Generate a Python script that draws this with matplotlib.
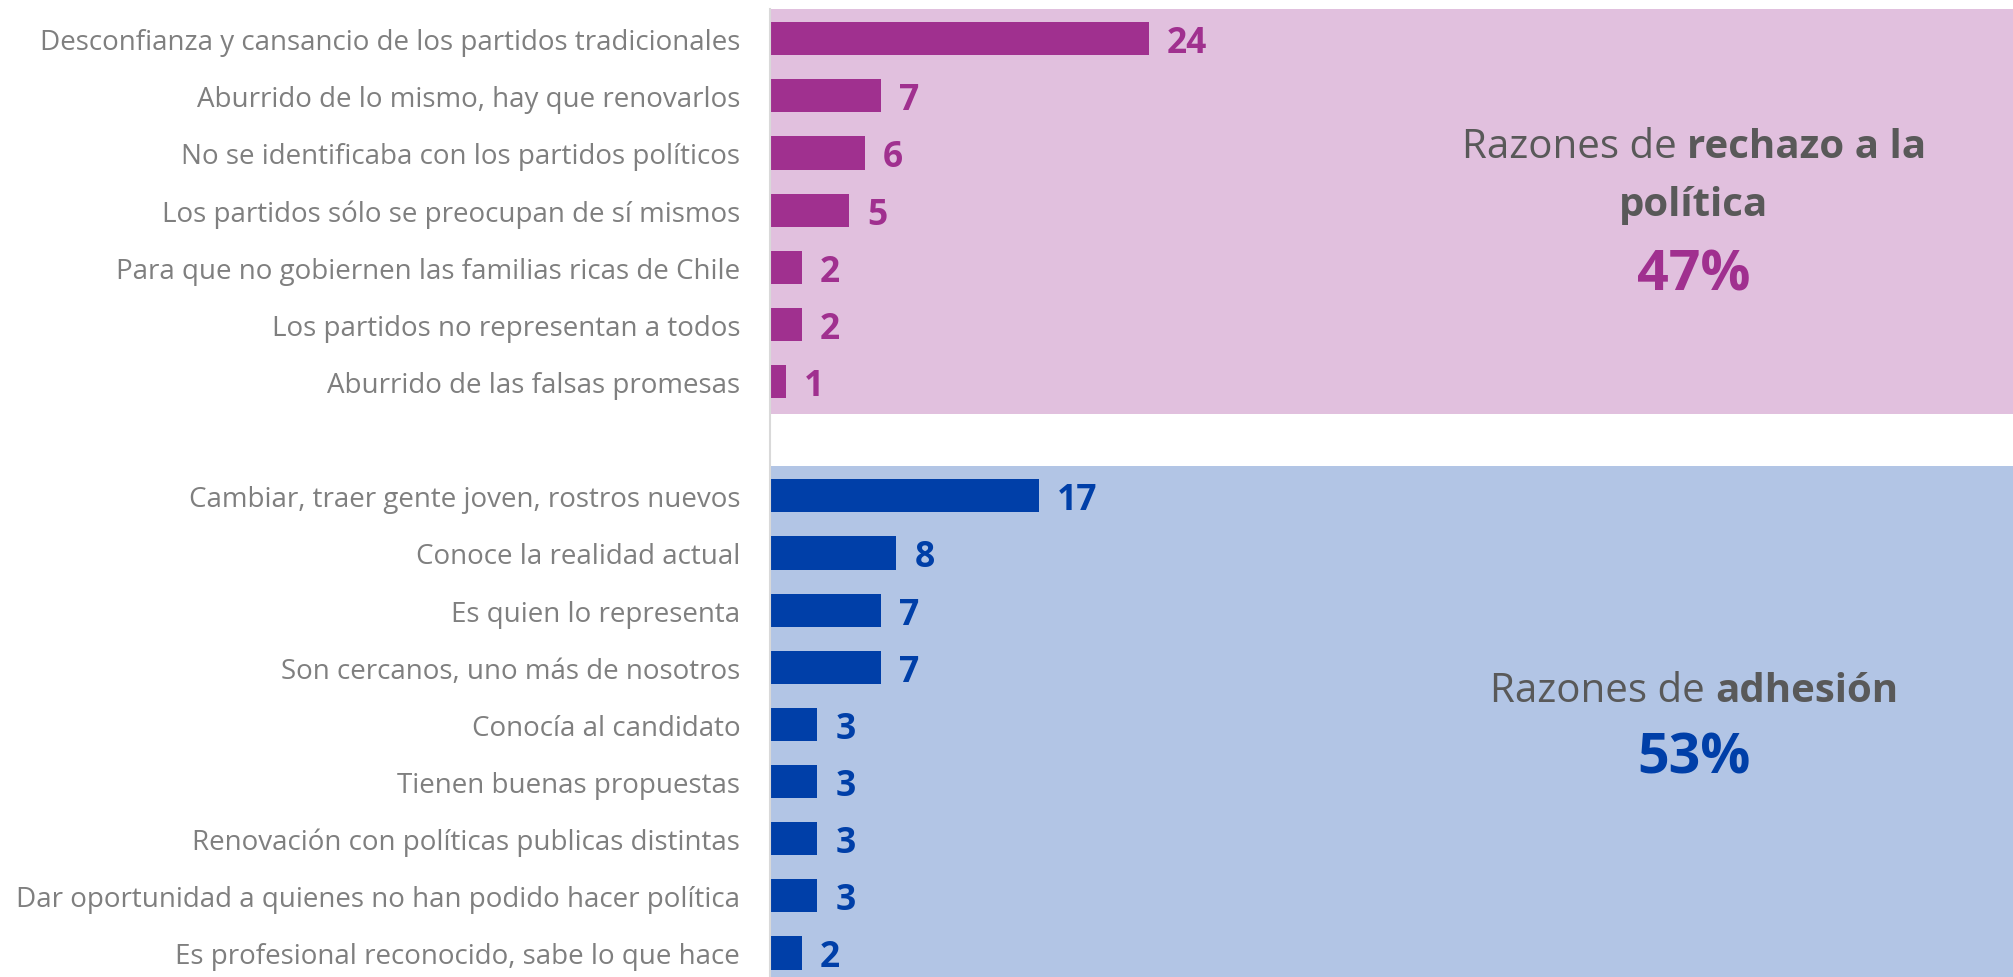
import matplotlib
matplotlib.use("Agg")
import matplotlib.pyplot as plt
from matplotlib.transforms import IdentityTransform

plt.rcParams['font.family'] = ['Open Sans', 'DejaVu Sans']

rechazo_labels = [
    'Desconfianza y cansancio de los partidos tradicionales',
    'Aburrido de lo mismo, hay que renovarlos',
    'No se identificaba con los partidos políticos',
    'Los partidos sólo se preocupan de sí mismos',
    'Para que no gobiernen las familias ricas de Chile',
    'Los partidos no representan a todos',
    'Aburrido de las falsas promesas',
]
rechazo_values = [24, 7, 6, 5, 2, 2, 1]

adhesion_labels = [
    'Cambiar, traer gente joven, rostros nuevos',
    'Conoce la realidad actual',
    'Es quien lo representa',
    'Son cercanos, uno más de nosotros',
    'Conocía al candidato',
    'Tienen buenas propuestas',
    'Renovación con políticas publicas distintas',
    'Dar oportunidad a quienes no han podido hacer política',
    'Es profesional reconocido, sabe lo que hace',
]
adhesion_values = [17, 8, 7, 7, 3, 3, 3, 3, 2]

rechazo_total = '47%'
adhesion_total = '53%'

PINK_BG = '#E1C0DE'
MAGENTA = '#A0308F'
BLUE_BG = '#B2C5E5'
BLUE = '#003FA8'
LABEL_GRAY = '#7F7F7F'
TITLE_GRAY = '#595959'

W, H = 2013, 978
fig = plt.figure(figsize=(W / 100, H / 100), dpi=100)
ax_left = 770 / W
ax = fig.add_axes([ax_left, 0, 1 - ax_left, (H - 10) / H])

n1 = len(rechazo_values)
pos1 = list(range(n1))
pos2 = [n1 + 1 + i for i in range(len(adhesion_values))]

# coloured panels behind each group
ax.axhspan(-0.52, n1 - 0.44, color=PINK_BG, zorder=0, lw=0)
ax.axhspan(n1 + 0.48, pos2[-1] + 1, color=BLUE_BG, zorder=0, lw=0)

ax.barh(pos1, rechazo_values, height=0.58, color=MAGENTA, zorder=2)
ax.barh(pos2, adhesion_values, height=0.58, color=BLUE, zorder=2)

for pos, vals, col in [(pos1, rechazo_values, MAGENTA), (pos2, adhesion_values, BLUE)]:
    for p, v in zip(pos, vals):
        ax.annotate(str(v), (v, p), xytext=(13, 0), textcoords='offset points',
                    ha='left', va='center_baseline', fontsize=25.5,
                    fontweight='bold', color=col)

ax.set_xlim(0, 78.7)
ax.set_ylim(16.42, -0.52)
ax.set_xticks([])
ax.set_yticks(pos1 + pos2)
ax.set_yticklabels(rechazo_labels + adhesion_labels, fontsize=20, color=LABEL_GRAY)
ax.tick_params(axis='y', length=0, pad=21.5)
for s in ['top', 'right', 'bottom']:
    ax.spines[s].set_visible(False)
ax.spines['left'].set_color('#D9D9D9')
ax.spines['left'].set_linewidth(1.5)
ax.spines['left'].set_zorder(3)


renderer = fig.canvas.get_renderer()


def rich_line(parts, xc, y_top, size, color):
    # parts: list of (word group, weight); centred on xc, baseline at y_top (pixels from top)
    y = H - y_top
    texts = []
    for s, w in parts:
        texts.append(fig.text(0, y, s, transform=IdentityTransform(), fontsize=size,
                              fontweight=w, color=color, ha='left', va='baseline'))
    a = fig.text(0, 0, 'aa', fontsize=size)
    b = fig.text(0, 0, 'a a', fontsize=size)
    space = b.get_window_extent(renderer).width - a.get_window_extent(renderer).width
    a.remove()
    b.remove()
    widths = [t.get_window_extent(renderer).width for t in texts]
    x = xc - (sum(widths) + space * (len(texts) - 1)) / 2
    for t, wd in zip(texts, widths):
        t.set_position((x, y))
        x += wd + space


rich_line([('Razones de', 'normal'), ('rechazo a la', 'bold')], 1694, 158, 29, TITLE_GRAY)
rich_line([('política', 'bold')], 1694, 216, 29, TITLE_GRAY)
rich_line([(rechazo_total, 'bold')], 1694, 291, 40, MAGENTA)
rich_line([('Razones de', 'normal'), ('adhesión', 'bold')], 1694, 702, 29, TITLE_GRAY)
rich_line([(adhesion_total, 'bold')], 1694, 774, 40, BLUE)

fig.savefig('out.png', dpi=100)
